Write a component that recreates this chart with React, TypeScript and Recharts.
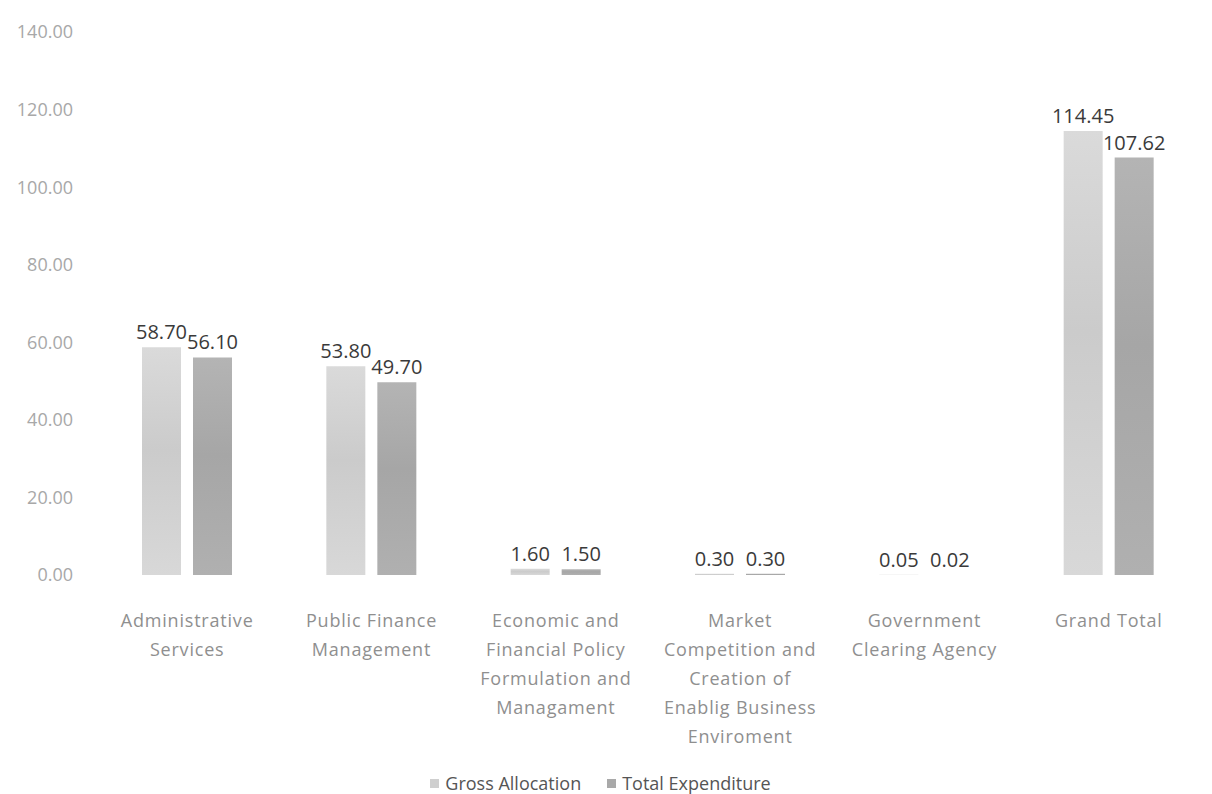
import { BarChart, Bar, XAxis, YAxis, Legend, LabelList } from "recharts";

const categories = [
  "Administrative\nServices",
  "Public Finance\nManagement",
  "Economic and\nFinancial Policy\nFormulation and\nManagament",
  "Market\nCompetition and\nCreation of\nEnablig Business\nEnviroment",
  "Government\nClearing Agency",
  "Grand Total",
];
const grossAllocation = [58.7, 53.8, 1.6, 0.3, 0.05, 114.45];
const totalExpenditure = [56.1, 49.7, 1.5, 0.3, 0.02, 107.62];
const yTicks = [0, 20, 40, 60, 80, 100, 120, 140];

const data = categories.map((name, i) => ({
  name,
  gross: grossAllocation[i],
  total: totalExpenditure[i],
}));

const FONT = "'Open Sans', 'Liberation Sans', sans-serif";

function CategoryTick({ x, y, payload }: any) {
  const lines = String(payload.value).split("\n");
  return (
    <text
      x={x}
      y={y}
      textAnchor="middle"
      fill="#8f8f8f"
      fontSize={18}
      letterSpacing={0.8}
      fontFamily={FONT}
    >
      {lines.map((line, i) => (
        <tspan key={i} x={x} dy={i === 0 ? 44 : 29}>
          {line}
        </tspan>
      ))}
    </text>
  );
}

function LegendContent() {
  const items = [
    { label: "Gross Allocation", color: "#cfcfcf" },
    { label: "Total Expenditure", color: "#a9a9a9" },
  ];
  return (
    <div
      style={{
        display: "flex",
        justifyContent: "center",
        gap: 26,
        fontFamily: FONT,
        fontSize: 18,
        color: "#555",
        paddingTop: 3,
      }}
    >
      {items.map((it) => (
        <div key={it.label} style={{ display: "flex", alignItems: "center", gap: 6 }}>
          <span style={{ width: 9, height: 9, background: it.color, display: "inline-block" }} />
          <span>{it.label}</span>
        </div>
      ))}
    </div>
  );
}

export default function App() {
  return (
    <div style={{ position: "absolute", left: 0, top: 0, background: "#fff" }}>
      <BarChart
        width={1212}
        height={794}
        data={data}
        margin={{ top: 32, right: 11, bottom: 4, left: 0 }}
        barGap={12}
        barSize={39}
      >
        <defs>
          <linearGradient id="grossFill" x1="0" y1="0" x2="0" y2="1">
            <stop offset="0%" stopColor="#dadada" />
            <stop offset="45%" stopColor="#cbcbcb" />
            <stop offset="100%" stopColor="#d8d8d8" />
          </linearGradient>
          <linearGradient id="totalFill" x1="0" y1="0" x2="0" y2="1">
            <stop offset="0%" stopColor="#b4b4b4" />
            <stop offset="45%" stopColor="#a6a6a6" />
            <stop offset="100%" stopColor="#b0b0b0" />
          </linearGradient>
        </defs>
        <XAxis
          dataKey="name"
          axisLine={false}
          tickLine={false}
          interval={0}
          height={193}
          tick={<CategoryTick />}
        />
        <YAxis
          domain={[0, 140]}
          ticks={yTicks}
          width={95}
          axisLine={false}
          tickLine={false}
          tickSize={0}
          tickMargin={22}
          tickFormatter={(v: number) => v.toFixed(2)}
          tick={{ fill: "#a8a8a8", fontSize: 18, fontFamily: FONT }}
        />
        <Legend verticalAlign="bottom" height={22} content={<LegendContent />} />
        <Bar
          dataKey="gross"
          name="Gross Allocation"
          fill="url(#grossFill)"
          isAnimationActive={false}
        >
          <LabelList
            dataKey="gross"
            position="top"
            offset={8}
            formatter={(v: number) => v.toFixed(2)}
            style={{ fill: "#3a3a3a", fontSize: 20, fontFamily: FONT }}
          />
        </Bar>
        <Bar
          dataKey="total"
          name="Total Expenditure"
          fill="url(#totalFill)"
          isAnimationActive={false}
        >
          <LabelList
            dataKey="total"
            position="top"
            offset={8}
            formatter={(v: number) => v.toFixed(2)}
            style={{ fill: "#3a3a3a", fontSize: 20, fontFamily: FONT }}
          />
        </Bar>
      </BarChart>
    </div>
  );
}
